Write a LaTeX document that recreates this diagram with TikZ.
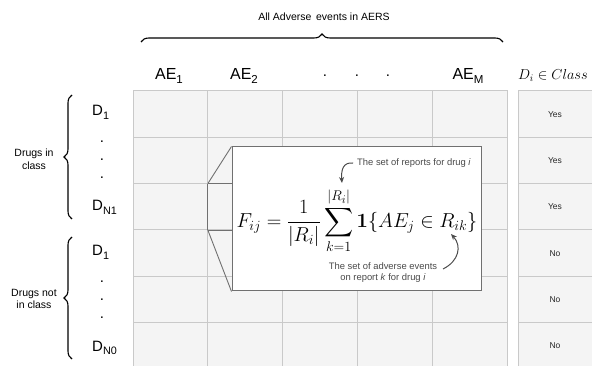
\documentclass[tikz,border=0pt]{standalone}
\usepackage{amsmath}
\usepackage[no-math]{fontspec}
\setmainfont{Liberation Sans}
\usetikzlibrary{decorations.pathreplacing,arrows.meta}
\definecolor{cellfill}{HTML}{F4F4F4}
\definecolor{gridline}{HTML}{C9C9C9}
\definecolor{boxline}{HTML}{707070}
\definecolor{notegray}{HTML}{4A4A4A}
\newcommand{\mysub}[1]{\raisebox{-0.26em}{\scalebox{0.72}{#1}}}
\begin{document}
\begin{tikzpicture}[x=1pt,y=-1pt,
  cell/.style={draw=gridline,fill=cellfill,line width=1pt},
  ae/.style={font=\fontsize{16}{18}\selectfont,inner sep=0pt,anchor=base},
  dl/.style={font=\fontsize{15}{17}\selectfont,inner sep=0pt,anchor=base west},
  vdot/.style={inner sep=0pt,font=\fontsize{15}{17}\selectfont},
  yn/.style={font=\fontsize{8.5}{10}\selectfont,text=black!85,inner sep=0pt},
  side/.style={font=\fontsize{10.5}{12.5}\selectfont,align=center,inner sep=0pt},
  bracestyle/.style={decorate,decoration={brace,amplitude=8pt},line width=1.1pt},
  popup/.style={draw=boxline,fill=white,line width=1pt,minimum width=249pt,minimum height=144pt,inner sep=0pt},
  formula/.style={font=\huge,inner sep=0pt},
  note/.style={font=\fontsize{9.4}{11}\selectfont,text=notegray,inner sep=0pt,align=center},
  notearrow/.style={draw=notegray,line width=1pt,-{Stealth[length=6pt,width=5pt]}},
  callout/.style={draw=boxline,line width=0.9pt}]
\useasboundingbox (0,0) rectangle (592,366);
\clip (0,0) rectangle (592,366);
% grid
\foreach \i in {0,...,4}
  \foreach \j in {0,...,5}
    \draw[cell] ({133+74.8*\i},{91+46.33*\j}) rectangle ++(74.8,46.33);
\foreach \j in {0,...,5}
  \draw[cell] (518,{91+46.33*\j}) rectangle ++(82,46.33);
% Yes / No
\foreach \j/\t in {0/Yes,1/Yes,2/Yes,3/No,4/No,5/No}
  \node[yn] (yn\j) at (555,{114.2+46.33*\j}) {\t};
% top brace and label
\coordinate (tb1) at (141,42);
\coordinate (tb2) at (503,42);
\draw[bracestyle] (tb1) -- (tb2);
\node[font=\fontsize{10.5}{12}\selectfont,inner sep=0pt] (alltxt) at (324,17) {All Adverse\, events in AERS};
% column headers
\node[ae] (ae1) at (169,79.5) {AE\mysub{1}};
\node[ae] (ae2) at (244,79.5) {AE\mysub{2}};
\node[vdot] (hd1) at (325,76) {.};
\node[vdot] (hd2) at (357,76) {.};
\node[vdot] (hd3) at (388,76) {.};
\node[ae] (aem) at (468,79.5) {AE\mysub{M}};
\node[inner sep=0pt,anchor=base west,font=\Large] (cls) at (518,79.5) {$D_i\in Class$};
% row labels group 1
\node[dl] (d1a) at (92,116) {D\mysub{1}};
\node[vdot] (v1) at (102,142) {.};
\node[vdot] (v2) at (102,160) {.};
\node[vdot] (v3) at (102,178) {.};
\node[dl] (dn1) at (92,211) {D\mysub{N1}};
\coordinate (lb1) at (72,219);
\coordinate (lb2) at (72,95);
\draw[bracestyle] (lb1) -- (lb2);
\node[side] (grp1) at (34,159) {Drugs in\\class};
% row labels group 2
\node[dl] (d1b) at (92,256) {D\mysub{1}};
\node[vdot] (v4) at (102,282) {.};
\node[vdot] (v5) at (102,300) {.};
\node[vdot] (v6) at (102,318) {.};
\node[dl] (dn0) at (92,351) {D\mysub{N0}};
\coordinate (lb3) at (72,359);
\coordinate (lb4) at (72,237);
\draw[bracestyle] (lb3) -- (lb4);
\node[side] (grp2) at (34,299) {Drugs not\\in class};
% callout
\coordinate (c1) at (207.8,183.66);
\coordinate (c2) at (207.8,230);
\node[popup] (box) at (356.5,219) {};
\draw[callout] (c1) -- (box.north west);
\draw[callout] (c2) -- (box.south west);
\draw[callout] (c1) -- (c2);
\draw[callout] (c1) -- (c1 -| box.west);
\draw[callout] (c2) -- (c2 -| box.west);
\node[formula] (F) at (357,221) {\scalebox{0.975}{$\displaystyle F_{ij}=\frac{1}{|R_i|}\sum_{k=1}^{|R_i|}\mathbf{1}\{AE_j\in R_{ik}\}$}};
% annotations
\node[note] (n1) at (414,163) {The set of reports for drug \textit{i}};
\coordinate (a1) at (342,183);
\draw[notearrow] (n1.west) ++(-4,0) .. controls (343,162) and (341,170) .. (a1);
\node[note] (n2) at (383,273) {The set of adverse events\\on report \textit{k} for drug \textit{i}};
\coordinate (a2s) at (443,269);
\coordinate (a2) at (451,234);
\draw[notearrow] (a2s) .. controls (459,261) and (462,246) .. (a2);
\end{tikzpicture}
\end{document}
